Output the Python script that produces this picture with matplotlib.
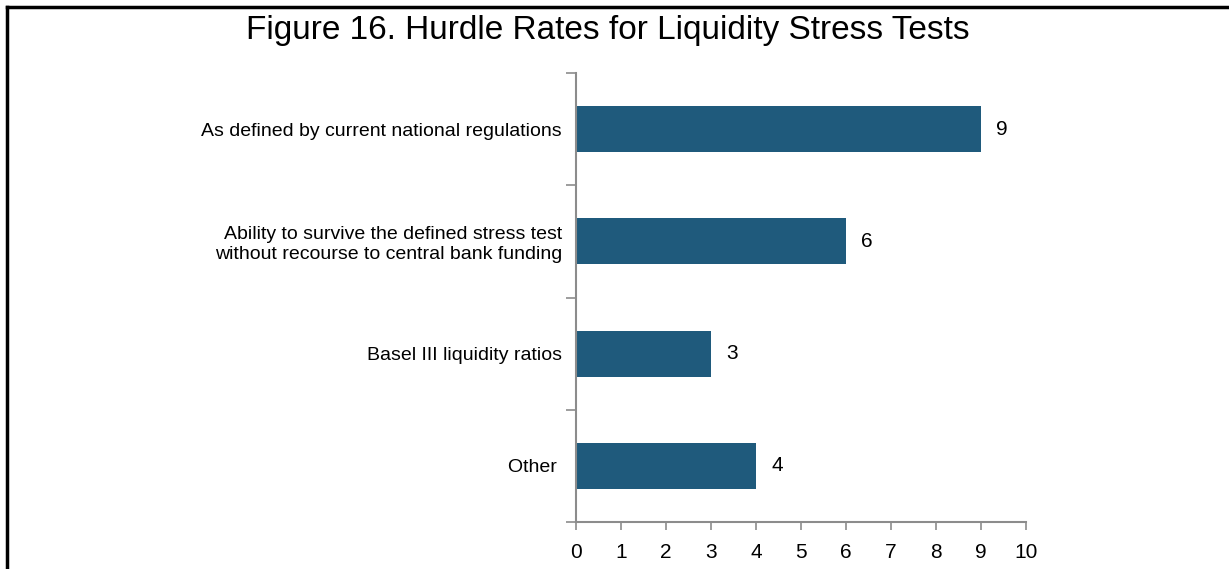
import matplotlib
matplotlib.use("Agg")
import matplotlib.pyplot as plt
from matplotlib.lines import Line2D

plt.rcParams['font.family'] = ['Liberation Sans', 'DejaVu Sans']

categories = [
    "As defined by current national regulations",
    "Ability to survive the defined stress test\nwithout recourse to central bank funding",
    "Basel III liquidity ratios",
    "Other ",
]
values = [9, 6, 3, 4]
xticks = list(range(0, 11))

title = "Figure 16. Hurdle Rates for Liquidity Stress Tests"
bar_color = "#1f5a7c"
axis_color = "#8c8c8c"

fig = plt.figure(figsize=(12.29, 5.69), dpi=100)
ax = fig.add_axes([576/1229, 1-522/569, (1026-576)/1229, (522-73)/569])

n = len(categories)
ypos = list(range(n))
ax.barh(ypos, values, height=0.41, color=bar_color, zorder=2)
ax.set_xlim(0, 10)
ax.set_ylim(n - 0.5, -0.5)
ax.set_xticks(xticks)
ax.set_xticklabels([str(t) for t in xticks], fontsize=15)

# category ticks at boundaries, labels at centers
ax.set_yticks([i - 0.5 for i in range(n + 1)])
ax.set_yticklabels([""] * (n + 1))
ax.set_yticks(ypos, minor=True)
ax.set_yticklabels(categories, minor=True, fontsize=14, ha='right',
                   multialignment='right', linespacing=1.2)
ax.tick_params(axis='y', which='minor', length=0, pad=10)
ax.tick_params(axis='y', which='major', length=7, color=axis_color, width=1.2)
ax.tick_params(axis='x', length=6, color=axis_color, width=1.2, pad=9)

for s in ['top', 'right']:
    ax.spines[s].set_visible(False)
for s in ['left', 'bottom']:
    ax.spines[s].set_color(axis_color)
    ax.spines[s].set_linewidth(1.5)

for y, v in zip(ypos, values):
    ax.text(v + 0.47, y, str(v), va='center', ha='center', fontsize=15)

fig.text(608/1229, 1-31/569, title, ha='center', va='center', fontsize=24)

# partial frame: left and top
fig.add_artist(Line2D([7/1229, 7/1229], [0, 1-7/569], transform=fig.transFigure, color='black', lw=2.5))
fig.add_artist(Line2D([7/1229, 1], [1-7/569, 1-7/569], transform=fig.transFigure, color='black', lw=2.5))

fig.savefig("out.png", dpi=100, facecolor='white')
